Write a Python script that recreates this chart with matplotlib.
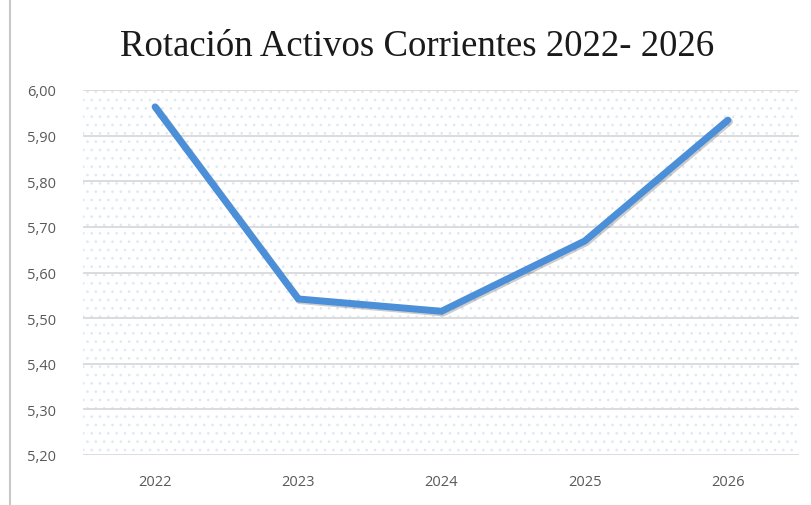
import matplotlib.pyplot as plt
import matplotlib.patheffects as pe
from matplotlib.patches import Rectangle
from matplotlib.ticker import FuncFormatter

# Datos
anios = ['2022', '2023', '2024', '2025', '2026']
rotacion = [5.963, 5.542, 5.515, 5.669, 5.934]
ticks_y = [5.20, 5.30, 5.40, 5.50, 5.60, 5.70, 5.80, 5.90, 6.00]

plt.rcParams['hatch.color'] = '#dfe8f5'
plt.rcParams['hatch.linewidth'] = 0.7

fig = plt.figure(figsize=(8.12, 5.06), dpi=100)
ax = fig.add_axes([83.5 / 812, 1 - 456 / 506, 716 / 812, 365 / 506])

# fondo punteado
ax.add_patch(Rectangle((0, 0), 1, 1, transform=ax.transAxes, facecolor='white',
                       edgecolor='#dfe8f5', hatch='..', linewidth=0, zorder=0))

x = range(len(anios))
ax.plot(x, rotacion, color='#4a8fd8', linewidth=5, solid_capstyle='round',
        solid_joinstyle='miter', zorder=3,
        path_effects=[pe.SimpleLineShadow(offset=(1.2, -1.2), shadow_color='black', alpha=0.2),
                      pe.Normal()])

ax.set_xlim(-0.5, len(anios) - 0.5)
ax.set_ylim(5.20, 6.00)
ax.set_yticks(ticks_y)
ax.yaxis.set_major_formatter(FuncFormatter(lambda v, p: f'{v:.2f}'.replace('.', ',')))
ax.set_xticks(list(x))
ax.set_xticklabels(anios)
ax.grid(axis='y', color='#d9d9d9', linewidth=1.3, zorder=1)
ax.set_axisbelow(True)
for s in ax.spines.values():
    s.set_visible(False)
ax.tick_params(length=0, labelsize=10.5, labelcolor='#595959')
ax.tick_params(axis='x', pad=14)
ax.tick_params(axis='y', pad=20)
for lab in ax.get_xticklabels() + ax.get_yticklabels():
    lab.set_fontfamily('Open Sans')

fig.text(417 / 812, 1 - 47 / 506, 'Rotación Activos Corrientes 2022- 2026', ha='center', va='center',
         fontsize=26.5, family='Liberation Serif', color='#1a1a1a')

# borde izquierdo
fig.add_artist(plt.Line2D([10 / 812, 10 / 812], [0, 1], color='#c8c8c8', linewidth=1.5))

plt.savefig('out.png', dpi=100)
